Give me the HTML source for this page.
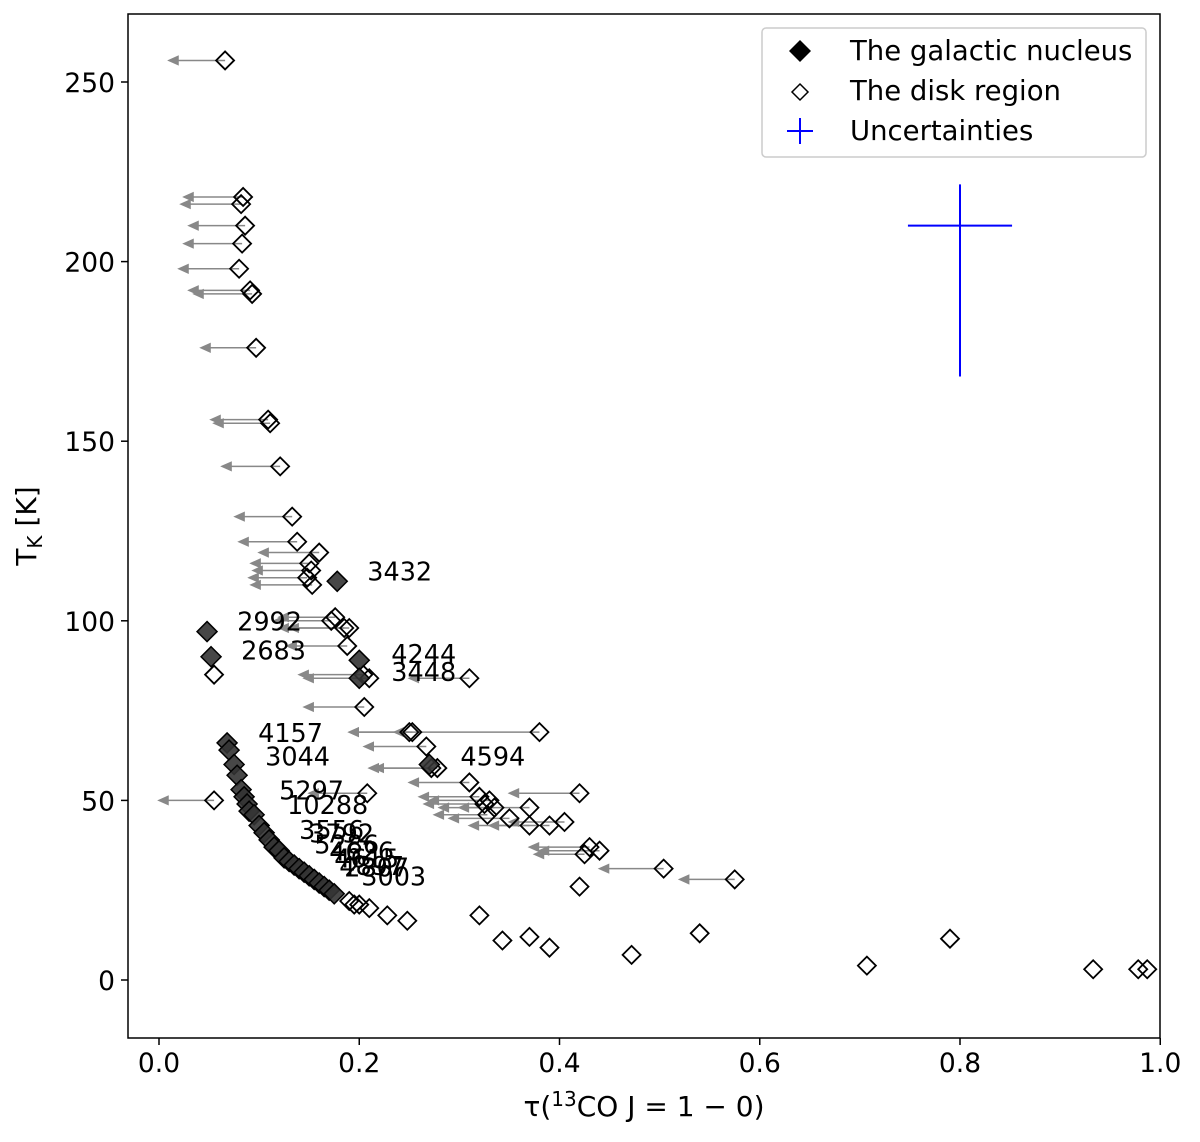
<!DOCTYPE html>
<html><head><meta charset="utf-8"><style>
body{margin:0;background:#fff}
svg{display:block;font-family:"DejaVu Sans","Liberation Sans",sans-serif}
</style></head><body>
<svg id="chart" width="1200" height="1142" viewBox="0 0 1200 1142" xmlns="http://www.w3.org/2000/svg">
<rect x="0" y="0" width="1200" height="1142" fill="#fff"/>
<g id="marks"></g>
<rect x="128" y="14" width="1032" height="1024" fill="none" stroke="#000" stroke-width="1.5"/>
<g id="axes"></g>
<text x="36" y="526" font-size="28" text-anchor="middle" transform="rotate(-90 36 526)">T<tspan font-size="20" dy="6">K</tspan><tspan dy="-6"> [K]</tspan></text>
<text x="644" y="1116" font-size="28" text-anchor="middle">τ(<tspan font-size="20" dy="-10">13</tspan><tspan dy="10">CO J = 1 − 0)</tspan></text>
<g>
<rect x="762" y="28" width="384" height="129" rx="4" fill="#fff" stroke="#ccc" stroke-width="1.5"/>
<path d="M800,40 L811,51 L800,62 L789,51 Z" fill="#000"/>
<text x="850" y="60" font-size="27.5">The galactic nucleus</text>
<path d="M800,84 L808,92 L800,100 L792,92 Z" fill="#fff" stroke="#000" stroke-width="1.5"/>
<text x="850" y="100" font-size="27.5">The disk region</text>
<path d="M787,131 L813,131 M800,118 L800,144" stroke="#00f" stroke-width="2"/>
<text x="850" y="140" font-size="27.5">Uncertainties</text>
</g>
</svg>
<script>
const xTicks=[0.0,0.2,0.4,0.6,0.8,1.0];
const xTickLabels=["0.0","0.2","0.4","0.6","0.8","1.0"];
const yTicks=[0,50,100,150,200,250];
const yTickLabels=["0","50","100","150","200","250"];
// disk region with upper-limit arrows: tau, T, arrow tip tau
const diskTau=[0.066,0.084,0.082,0.086,0.083,0.080,0.091,0.093,0.097,0.109,0.111,0.121,0.133,0.138,0.160,0.150,0.152,0.148,0.153,0.172,0.176,0.185,0.190,0.188,0.204,0.210,0.310,0.205,0.250,0.253,0.267,0.380,0.278,0.272,0.208,0.055,0.310,0.420,0.320,0.325,0.330,0.335,0.328,0.370,0.350,0.370,0.390,0.405,0.430,0.440,0.425,0.504,0.575];
const diskT=[256,218,216,210,205,198,192,191,176,156,155,143,129,122,119,116,114,112,110,100,101,98,98,93,85,84,84,76,69,69,65,69,59,59,52,50,55,52,51,49,50,48,46,48,45,43,43,44,37,36,35,31,28];
const diskLimit=[0.010,0.025,0.022,0.030,0.025,0.020,0.030,0.035,0.042,0.052,0.055,0.063,0.076,0.080,0.100,0.092,0.094,0.090,0.092,0.115,0.120,0.120,0.130,0.128,0.140,0.145,0.250,0.145,0.190,0.190,0.205,0.235,0.215,0.210,0.150,0.000,0.250,0.350,0.260,0.265,0.270,0.280,0.275,0.300,0.290,0.310,0.330,0.350,0.370,0.380,0.375,0.440,0.520];
// disk region without limits
const diskTau2=[0.055,0.420,0.320,0.343,0.370,0.390,0.472,0.540,0.707,0.790,0.933,0.978,0.987,0.190,0.195,0.200,0.210,0.228,0.248];
const diskT2=[85,26,18,11,12,9,7,13,4,11.5,3,3,3,22,21,21,20,18,16.5];
// galactic nucleus
const nucTau=[0.048,0.052,0.178,0.200,0.200,0.270,0.068,0.070,0.075,0.078,0.082,0.085,0.088,0.090,0.095,0.100,0.105,0.110,0.115,0.120,0.125,0.130,0.135,0.140,0.145,0.150,0.155,0.160,0.165,0.170,0.175];
const nucT=[97,90,111,89,84,60,66,64,60,57,53,51,49,47,46,43,41,39,37,36,34,33,32,31,30,29,28,27,26,25,24];
const labelText=["3432","2992","2683","4244","3448","4157","3044","4594","5297","10288","3556","3792","5286","4626","4615","4897","2807","3003"];
const labelTau=[0.208,0.078,0.082,0.232,0.232,0.099,0.106,0.301,0.120,0.128,0.140,0.150,0.155,0.170,0.175,0.180,0.185,0.202];
const labelT=[111,97,89,88,83,66,59.5,59.5,50,46,39,38,35,33,31,29,28.5,26];

const X=v=>159+v*1001.25;
const Y=v=>980-v*3.592;
const NS="http://www.w3.org/2000/svg";
const marks=document.getElementById('marks');
const axes=document.getElementById('axes');
function mk(tag,attrs,parent){const e=document.createElementNS(NS,tag);for(const k in attrs)e.setAttribute(k,attrs[k]);parent.appendChild(e);return e;}
function diamond(cx,cy,r){return `M${cx},${cy-r} L${cx+r},${cy} L${cx},${cy+r} L${cx-r},${cy} Z`;}

xTicks.forEach((t,i)=>{
  const l=mk('line',{x1:X(t),x2:X(t),y1:1038,y2:1045,stroke:'#000','stroke-width':1.5},axes);
  
  
  const tx=mk('text',{x:X(t),y:1072,'font-size':26.5,'text-anchor':'middle'},axes);
  tx.textContent=xTickLabels[i];
  
  
});
yTicks.forEach((t,i)=>{
  const l=mk('line',{x1:121,x2:128,y1:Y(t),y2:Y(t),stroke:'#000','stroke-width':1.5},axes);
  
  
  const tx=mk('text',{x:115,y:Y(t)+10,'font-size':26.5,'text-anchor':'end'},axes);
  tx.textContent=yTickLabels[i];
  
  
});

// uncertainty cross
const unc=mk('path',{d:`M${X(0.748)},${Y(210)} L${X(0.852)},${Y(210)} M${X(0.8)},${Y(168)} L${X(0.8)},${Y(221.5)}`,stroke:'#00f','stroke-width':2,fill:'none'},marks);



diskTau.forEach((t,i)=>{
  const x0=X(t),x1=X(diskLimit[i]),y=Y(diskT[i]);
  const a=mk('path',{d:`M${x0},${y} L${x1+7},${y} M${x1},${y} L${x1+9},${y-4} L${x1+9},${y+4} Z`,stroke:'#888','stroke-width':1.5,fill:'#888'},marks);
  
  
});
diskTau.forEach((t,i)=>{
  const p=mk('path',{d:diamond(X(t),Y(diskT[i]),9),fill:'none',stroke:'#000','stroke-width':1.8},marks);
  
  
});
diskTau2.forEach((t,i)=>{
  const p=mk('path',{d:diamond(X(t),Y(diskT2[i]),9),fill:'none',stroke:'#000','stroke-width':1.8},marks);
  
  
});
nucTau.forEach((t,i)=>{
  const p=mk('path',{d:diamond(X(t),Y(nucT[i]),10),fill:'#333',stroke:'#000','stroke-width':1.5,'fill-opacity':0.9},marks);
  
  
});
labelText.forEach((s,i)=>{
  const tx=mk('text',{x:X(labelTau[i]),y:Y(labelT[i])-1,'font-size':25.5},marks);
  tx.textContent=s;
  
  
});
</script>
</body></html>
